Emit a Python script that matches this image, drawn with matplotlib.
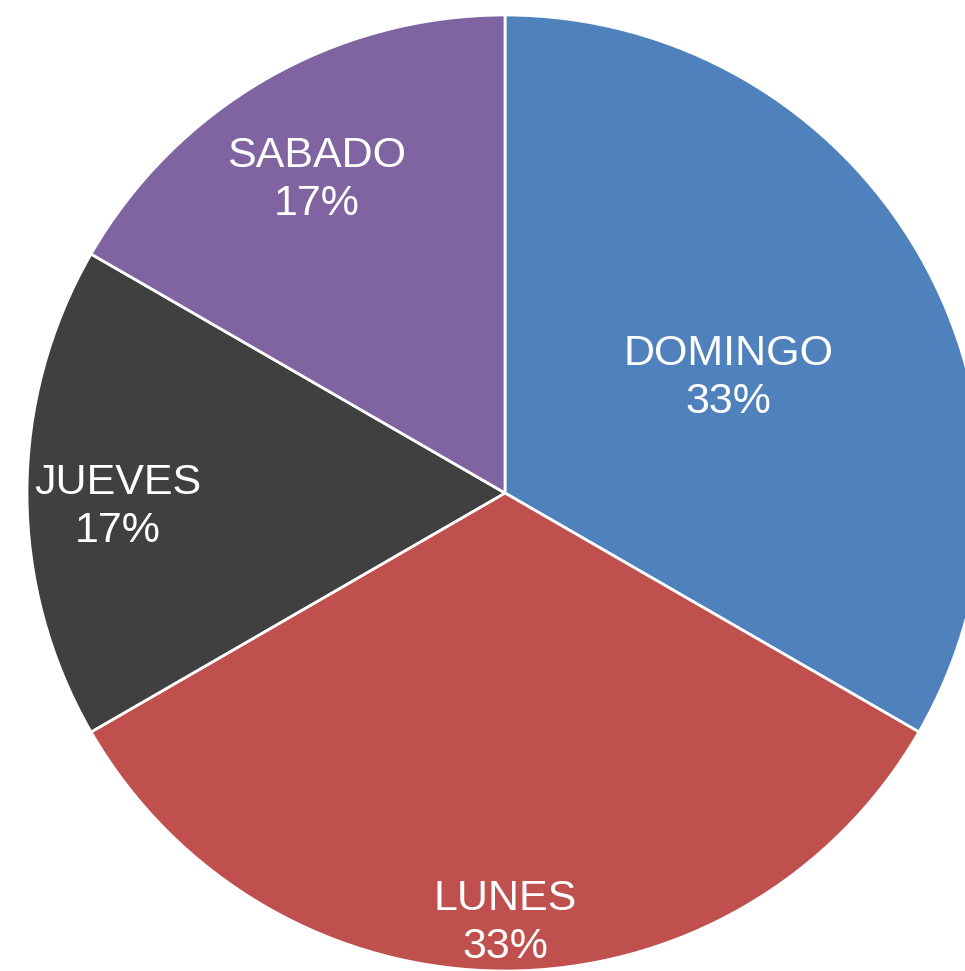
import numpy as np
import matplotlib
matplotlib.use("Agg")
import matplotlib.pyplot as plt

# data
days = ["DOMINGO", "LUNES", "JUEVES", "SABADO"]
counts = [2, 2, 1, 1]
colors = ["#4F81BD", "#C0504D", "#404040", "#8064A2"]
label_r = [0.54, 0.87, 0.81, 0.79]

W, H = 965, 971
cx, cy, R = 505, 493, 478

fig = plt.figure(figsize=(W / 100, H / 100), dpi=100)
ax = fig.add_axes([0, 0, 1, 1])

wedges, _ = ax.pie(counts, colors=colors, startangle=90, counterclock=False,
                   radius=1.0, wedgeprops=dict(edgecolor="white", linewidth=2))

total = sum(counts)
shift = 14 / R  # labels sit a little below the slice mid-line
for w, name, c, r in zip(wedges, days, counts, label_r):
    ang = np.deg2rad((w.theta1 + w.theta2) / 2)
    ax.text(r * np.cos(ang), r * np.sin(ang) - shift, f"{name}\n{c / total:.0%}",
            ha="center", va="center", color="white", fontsize=31,
            family=["Liberation Sans", "DejaVu Sans"], linespacing=1.25)

ax.set_xlim(-cx / R, (W - cx) / R)
ax.set_ylim(-(H - cy) / R, cy / R)
ax.set_aspect("auto")
ax.axis("off")

plt.savefig("out.png", dpi=100)
